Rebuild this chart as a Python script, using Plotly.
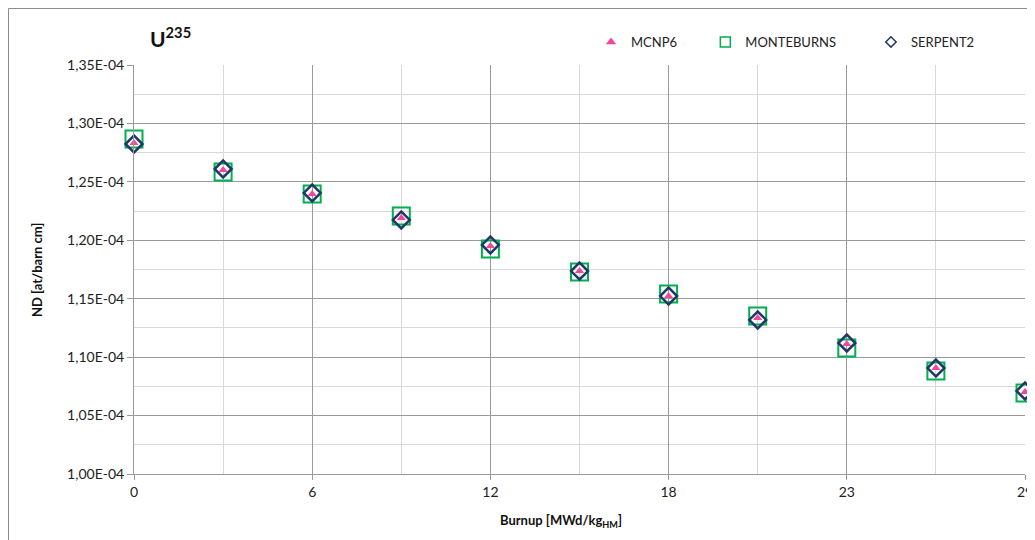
import plotly.graph_objects as go

# Burnup steps (category axis, labels shown every other step)
burnup_steps = ["0", "3", "6", "9", "12", "15", "18", "20.5", "23", "26", "29"]
burnup_tick_labels = ["0", "6", "12", "18", "23", "29"]

mcnp6 = [1.2833e-4, 1.2601e-4, 1.2396e-4, 1.2191e-4, 1.1951e-4, 1.1737e-4,
         1.1523e-4, 1.1335e-4, 1.1112e-4, 1.0907e-4, 1.0702e-4]
monteburns = [1.2867e-4, 1.2584e-4, 1.2396e-4, 1.2208e-4, 1.1926e-4, 1.1729e-4,
              1.1540e-4, 1.1352e-4, 1.1078e-4, 1.0881e-4, 1.0693e-4]
serpent2 = [1.2824e-4, 1.2610e-4, 1.2405e-4, 1.2174e-4, 1.1960e-4, 1.1737e-4,
            1.1523e-4, 1.1318e-4, 1.1121e-4, 1.0907e-4, 1.0711e-4]

y_tick_values = [1.00e-4, 1.05e-4, 1.10e-4, 1.15e-4, 1.20e-4, 1.25e-4, 1.30e-4, 1.35e-4]
y_tick_labels = ["1,00E-04", "1,05E-04", "1,10E-04", "1,15E-04", "1,20E-04",
                 "1,25E-04", "1,30E-04", "1,35E-04"]

FONT = "Lato"
PINK = "#F5479A"
GREEN = "#00B050"
NAVY = "#1F3864"
GRID_MAJOR = "#9A9A9A"
GRID_MINOR = "#D9D9D9"

# the page body adds an 8px offset, so the figure is 8px smaller and the margins 8px less
W, H = 1027, 532
L, R, T, B = 126, 10, 57, 66
PW, PH = W - L - R, H - T - B


def px(x):  # reference-screen x -> paper fraction
    return (x - 8 - L) / PW


def py(y):  # reference-screen y -> paper fraction
    return (H - B - (y - 8)) / PH


xidx = list(range(len(burnup_steps)))
tick_pos = [burnup_steps.index(t) for t in burnup_tick_labels]
PAD1 = "\u00a0" * 7
PAD2 = "\u00a0" * 9

fig = go.Figure()
# data traces (square -> diamond -> triangle so the triangle sits on top)
fig.add_trace(go.Scatter(
    x=xidx, y=monteburns, name="MONTEBURNS", mode="markers", showlegend=False,
    cliponaxis=False,
    marker=dict(symbol="square-open", size=17, color=GREEN, line=dict(width=2, color=GREEN))))
fig.add_trace(go.Scatter(
    x=xidx, y=serpent2, name="SERPENT2", mode="markers", showlegend=False,
    cliponaxis=False,
    marker=dict(symbol="diamond-open", size=13, color=NAVY, line=dict(width=2.5, color=NAVY))))
fig.add_trace(go.Scatter(
    x=xidx, y=mcnp6, name="MCNP6", mode="markers", showlegend=False,
    cliponaxis=False,
    marker=dict(symbol="triangle-up", size=8, color=PINK, line=dict(width=0))))

# legend entries with small symbols, as in the reference legend
fig.add_trace(go.Scatter(x=[None], y=[None], name="MCNP6" + PAD1, mode="markers", legendrank=1,
                         marker=dict(symbol="triangle-up", size=9, color=PINK)))
fig.add_trace(go.Scatter(x=[None], y=[None], name="MONTEBURNS" + PAD2, mode="markers", legendrank=2,
                         marker=dict(symbol="square-open", size=10, color=GREEN, line=dict(width=1.5, color=GREEN))))
fig.add_trace(go.Scatter(x=[None], y=[None], name="SERPENT2", mode="markers", legendrank=3,
                         marker=dict(symbol="diamond-open", size=8, color=NAVY, line=dict(width=1.5, color=NAVY))))

fig.update_layout(
    width=W, height=H,
    margin=dict(l=L, r=R, t=T, b=B, autoexpand=False),
    paper_bgcolor="white", plot_bgcolor="white",
    font=dict(family=FONT, size=13, color="#222222"),
    showlegend=True,
    legend=dict(orientation="h", x=px(591), y=py(42),
                xanchor="left", yanchor="middle",
                font=dict(family=FONT, size=13, color="#222222"), itemwidth=30,
                bgcolor="rgba(0,0,0,0)"),
    xaxis=dict(
        range=[0, len(burnup_steps) - 1],
        tickmode="array", tickvals=tick_pos, ticktext=burnup_tick_labels,
        showgrid=True, gridcolor=GRID_MAJOR, gridwidth=1,
        showline=True, linecolor=GRID_MAJOR, linewidth=1,
        ticks="outside", ticklen=5, tickcolor=GRID_MAJOR,
        minor=dict(dtick=1, showgrid=True, gridcolor=GRID_MINOR, gridwidth=1, ticks=""),
        zeroline=False, automargin=False,
        tickfont=dict(family=FONT, size=14, color="#222222"),
    ),
    yaxis=dict(
        range=[1.00e-4, 1.35e-4],
        tickmode="array", tickvals=y_tick_values, ticktext=y_tick_labels,
        showgrid=True, gridcolor=GRID_MAJOR, gridwidth=1,
        showline=True, linecolor=GRID_MAJOR, linewidth=1,
        ticks="outside", ticklen=6, tickcolor=GRID_MAJOR,
        minor=dict(dtick=0.025e-4, tick0=1.0e-4, showgrid=True, gridcolor=GRID_MINOR, gridwidth=1, ticks=""),
        zeroline=False, automargin=False,
        tickfont=dict(family=FONT, size=14, color="#222222"),
    ),
)

# axis titles
fig.add_annotation(text="<b>ND [at/barn cm]</b>", xref="paper", yref="paper",
                   x=px(37), y=py(270), xanchor="center", yanchor="middle",
                   textangle=-90, showarrow=False, font=dict(family=FONT, size=13, color="#111111"))
fig.add_annotation(text="<b>Burnup [MWd/kg<sub>HM</sub>]</b>", xref="paper", yref="paper",
                   x=px(561), y=py(521), xanchor="center", yanchor="middle",
                   showarrow=False, font=dict(family=FONT, size=13, color="#111111"))

# chart title
fig.add_annotation(text="<b>U<sup>235</sup></b>", xref="paper", yref="paper",
                   x=px(148), y=py(53), xanchor="left", yanchor="bottom",
                   showarrow=False, font=dict(family=FONT, size=21, color="#111111"))

# chart-area border (top-left corner at the page origin offset)
fig.add_shape(type="rect", xref="paper", yref="paper",
              x0=(0.5 - L) / PW, x1=1.05, y0=-0.3, y1=(H - B - 0.5) / PH,
              line=dict(color="#8C8C8C", width=1), fillcolor="rgba(0,0,0,0)", layer="below")

fig.write_html("out.html")
